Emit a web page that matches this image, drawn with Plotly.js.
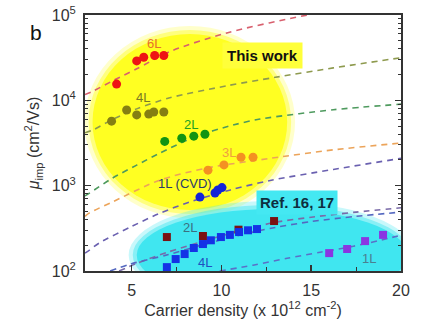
<!DOCTYPE html>
<html>
<head>
<meta charset="utf-8">
<script src="https://cdn.plot.ly/plotly-3.0.1.min.js"></script>
<style>html,body{margin:0;padding:0;background:#fff;}#chart{width:423px;height:322px;}</style>
</head>
<body>
<div id="chart"></div>
<script>
// ---- measured points (This work) ----
const x6L = [4.16, 5.28, 5.67, 6.28, 6.79];
const y6L = [15500, 29000, 32000, 33500, 33500];
const x4L = [3.88, 4.72, 5.28, 5.95, 6.23, 6.79];
const y4L = [5700, 7700, 6750, 6900, 7300, 7300];
const x2L = [6.84, 7.79, 8.46, 9.08];
const y2L = [3300, 3600, 3800, 4000];
const x3L = [9.25, 10.14, 11.09, 11.76];
const y3L = [1520, 1750, 2150, 2150];
const xCVD = [8.8, 9.64, 9.8, 10.03];
const yCVD = [735, 820, 890, 950];
// ---- Ref. 16, 17 ----
const xRef2L = [6.96, 8.97, 10.95, 12.93];
const yRef2L = [250, 257, 305, 385];
const xRef4L = [6.96, 7.45, 7.95, 8.46, 8.97, 9.41, 9.97, 10.47, 10.98, 11.48, 11.98];
const yRef4L = [111, 138, 158, 186, 207, 229, 250, 265, 286, 300, 310];
const xRef1L = [16, 17, 18, 19];
const yRef1L = [162, 181, 224, 265];
// ---- dashed model curves ----
const xC6L = [2.4, 2.77, 4.05, 5.28, 7.12, 10.3, 14.78, 20];
const yC6L = [11700, 12600, 17400, 23400, 37200, 61700, 100000, 158000];
const xC4L = [2.4, 2.82, 3.88, 5.28, 7.12, 10.3, 13, 16.23, 20];
const yC4L = [4170, 4470, 5890, 7940, 10700, 14800, 18600, 24000, 31600];
const xC2L = [2.4, 2.65, 3.94, 5.28, 6.56, 8.5, 10.64, 12.15, 16.23, 20];
const yC2L = [759, 818, 1230, 1740, 2400, 3720, 5130, 6030, 7760, 9020];
const xC3L = [2.4, 2.65, 3.94, 6.56, 9.19, 12.71, 16.23, 20];
const yC3L = [437, 479, 646, 1160, 1610, 2090, 2630, 3160];
const xCCVD = [2.4, 2.65, 3.21, 4.89, 6.5, 8.24, 10.5, 12.71, 16.23, 20];
const yCCVD = [162, 176, 214, 324, 468, 646, 891, 1150, 1550, 2090];
const xCR2L = [4.3, 5.3, 7, 9, 11, 13, 15, 17.5, 20];
const yCR2L = [100, 123, 166, 224, 295, 372, 427, 490, 550];
const xCR4L = [3.8, 4.9, 7, 9, 11, 13, 15, 17.5, 20];
const yCR4L = [100, 120, 155, 204, 263, 324, 380, 437, 490];
const xCR1L = [9.9, 11.76, 13.66, 15.5, 17.35, 19.25, 20];
const yCR1L = [100, 117, 141, 166, 195, 240, 263];
// ---- axis ticks ----
const yTickVals = [100, 1000, 10000, 100000];
const yTickText = ['10<sup>2</sup>', '10<sup>3</sup>', '10<sup>4</sup>', '10<sup>5</sup>'];
const xTickVals = [5, 10, 15, 20];

function curve(x, y, color) {
  return {x: x, y: y, type: 'scatter', mode: 'lines', hoverinfo: 'skip',
    line: {color: color, width: 1.6, dash: '6px,5px', shape: 'spline', smoothing: 0.8}};
}
function pts(x, y, color, symbol, size) {
  return {x: x, y: y, type: 'scatter', mode: 'markers',
    marker: {color: color, symbol: symbol, size: size, line: {width: 0}}};
}

const traces = [
  curve(xC6L, yC6L, '#d8606e'),
  curve(xC4L, yC4L, '#8e9a4e'),
  curve(xC2L, yC2L, '#4e9a5e'),
  curve(xC3L, yC3L, '#eca45a'),
  curve(xCCVD, yCCVD, '#6a60b0'),
  curve(xCR2L, yCR2L, '#7a6aa8'),
  curve(xCR4L, yCR4L, '#5468c0'),
  curve(xCR1L, yCR1L, '#5a70c8'),
  pts(x6L, y6L, '#ee1414', 'circle', 9),
  pts(x4L, y4L, '#857f12', 'circle', 9),
  pts(x2L, y2L, '#129412', 'circle', 9),
  pts(x3L, y3L, '#f49022', 'circle', 9),
  pts(xCVD, yCVD, '#1424d8', 'circle', 9),
  pts(xRef2L, yRef2L, '#7a1212', 'square', 8),
  pts(xRef4L, yRef4L, '#1432e6', 'square', 8),
  pts(xRef1L, yRef1L, '#8a36e2', 'square', 8)
];

// decorative highlight blobs (data refs so they are clipped to the plot area)
function ell(x0, x1, y0, y1, color, op) {
  return {type: 'circle', xref: 'x', yref: 'y', x0: x0, x1: x1, y0: y0, y1: y1,
    fillcolor: color, opacity: op, line: {width: 0}, layer: 'below'};
}
const shapes = [
  ell(2.37, 14.1, 417, 74300, '#ffff30', 0.25),
  ell(2.60, 13.88, 465, 66700, '#ffff30', 0.5),
  ell(2.82, 13.66, 518, 59900, '#ffff22', 1),
  ell(4.83, 20.81, 35.7, 661, '#48e8f2', 0.3),
  ell(5.06, 20.59, 39.8, 593, '#48e8f2', 0.5),
  ell(5.28, 20.36, 44.4, 532, '#40e6f0', 1)
];

function lab(text, x, y, color, size, bold) {
  return {text: bold ? '<b>' + text + '</b>' : text, x: x, y: y, xref: 'x', yref: 'y',
    showarrow: false, font: {family: 'Liberation Sans, Arial, sans-serif', size: size, color: color}};
}
const annotations = [
  lab('6L', 6.23, 4.67, '#e8702a', 13),
  lab('4L', 5.61, 4.03, '#7a7a22', 13),
  lab('2L', 8.3, 3.72, '#22a022', 13),
  lab('3L', 10.4, 3.39, '#f0a040', 13),
  lab('1L (CVD)', 7.96, 3.02, '#2a3a6a', 13),
  Object.assign(lab('This work', 12.3, 4.52, '#111111', 15, true), {bgcolor: '#ffff3a', borderpad: 4}),
  Object.assign(lab('Ref. 16, 17', 14.2, 2.80, '#0e2e3e', 15, true), {bgcolor: '#44e8f2', borderpad: 3}),
  lab('2L', 8.24, 2.515, '#3a7080', 13),
  lab('4L', 9.08, 2.10, '#2050c0', 13),
  lab('1L', 18.2, 2.15, '#4a8090', 13),
  {text: 'b', xref: 'paper', yref: 'paper', x: -0.18, y: 0.985, showarrow: false,
   font: {family: 'Liberation Sans, Arial, sans-serif', size: 21, color: '#111'}}
];

const layout = {
  width: 423, height: 322,
  margin: {l: 85, r: 22, t: 15, b: 51},
  paper_bgcolor: '#ffffff', plot_bgcolor: '#ffffff',
  showlegend: false,
  font: {family: 'Liberation Sans, Arial, sans-serif', size: 16, color: '#333'},
  xaxis: {
    range: [2.4, 20], tickvals: xTickVals, ticks: 'inside', ticklen: 6, tickwidth: 1.5,
    tickcolor: '#333', showline: true, linecolor: '#333', linewidth: 2, mirror: true,
    showgrid: false, zeroline: false, ticklabelstandoff: 4,
    tickfont: {size: 16, color: '#333'},
    minor: {tickvals: [7.5, 12.5, 17.5], ticks: 'inside', ticklen: 4, tickcolor: '#333', tickwidth: 1.2},
    title: {text: 'Carrier density (x 10<sup>12</sup> cm<sup>-2</sup>)', font: {size: 16, color: '#333'}, standoff: 6}
  },
  yaxis: {
    type: 'log', range: [2, 5], tickvals: yTickVals, ticktext: yTickText,
    ticks: 'inside', ticklen: 6, tickwidth: 1.5, tickcolor: '#333',
    showline: true, linecolor: '#333', linewidth: 2, mirror: 'ticks',
    showgrid: false, zeroline: false, ticklabelstandoff: 4,
    tickfont: {size: 16, color: '#333'},
    minor: {tickvals: [200,300,400,500,600,700,800,900,2000,3000,4000,5000,6000,7000,8000,9000,20000,30000,40000,50000,60000,70000,80000,90000],
            ticks: 'inside', ticklen: 3, tickcolor: '#333', tickwidth: 1},
    title: {text: '<i>μ</i><sub>imp</sub> (cm<sup>2</sup>/Vs)', font: {size: 16, color: '#333'}, standoff: 8}
  },
  shapes: shapes,
  annotations: annotations
};

Plotly.newPlot('chart', traces, layout, {staticPlot: true, displayModeBar: false});
</script>
</body>
</html>
